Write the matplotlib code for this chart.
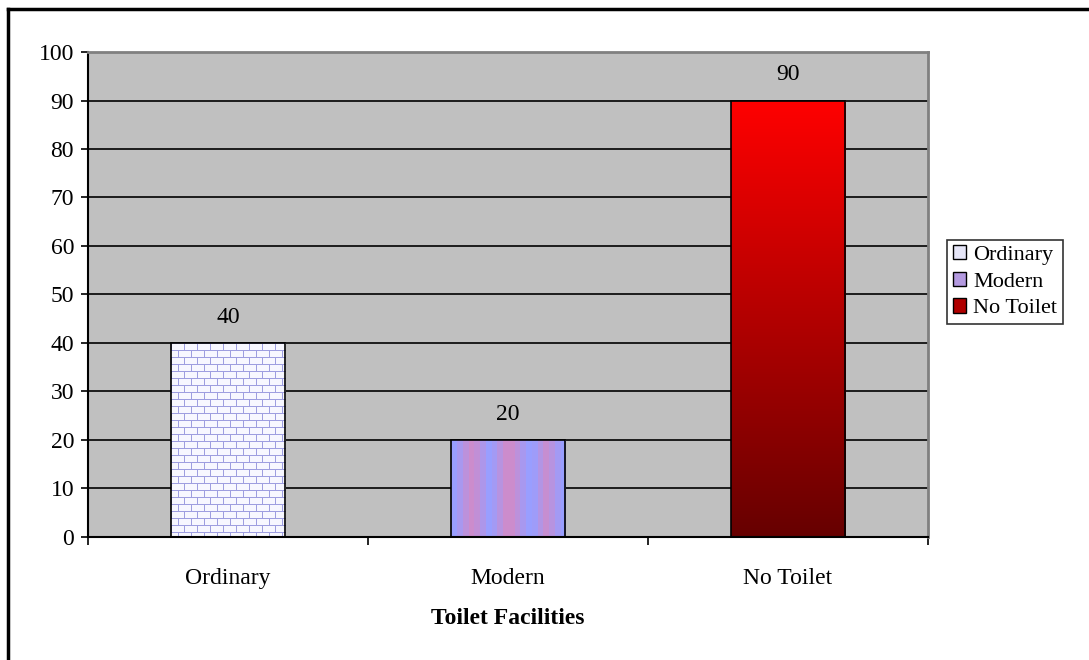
import numpy as np
import matplotlib.pyplot as plt
from matplotlib.patches import Patch
from matplotlib.lines import Line2D

# Toilet facilities survey counts
categories = ["Ordinary", "Modern", "No Toilet"]
counts = [40, 20, 90]
y_ticks = list(range(0, 101, 10))

plt.rcParams["font.family"] = ["Liberation Serif", "DejaVu Serif"]


def brick_texture(h, w, brick_w=13, brick_h=7):
    """White bricks with light-blue mortar lines."""
    img = np.ones((h, w, 3)) * np.array([0.97, 0.97, 1.0])
    mortar = np.array([0.62, 0.62, 0.88])
    for r in range(h):
        row = r // brick_h
        if r % brick_h == 0:
            img[r, :] = mortar
            continue
        shift = (brick_w // 2) if row % 2 else 0
        for c in range(w):
            if (c + shift) % brick_w == 0:
                img[r, c] = mortar
    return img


def stripe_texture(h, w):
    """Vertical pink / periwinkle stripes."""
    pink = np.array([0.80, 0.55, 0.80])
    blue = np.array([0.60, 0.62, 1.0])
    phase = np.array([0, .3, .7, 1, .8, .4, 0, .2, .6, 1, 1, .7, .3, 0, .1, .5, .9, .6, .2, 0])
    cols = []
    for c in range(w):
        t = phase[int(c / w * len(phase)) % len(phase)]
        cols.append(pink * t + blue * (1 - t))
    cols = np.array(cols)
    return np.repeat(cols[None, :, :], h, axis=0)


def gradient_texture(h, w):
    """Vertical red gradient, bright on top, dark at the bottom."""
    top = np.array([1.0, 0.0, 0.0])
    bottom = np.array([0.40, 0.0, 0.0])
    t = np.linspace(0, 1, h)[:, None]
    col = top * (1 - t) + bottom * t
    return np.repeat(col[:, None, :], w, axis=1)


fig = plt.figure(figsize=(10.89, 6.6), dpi=100)
ax = fig.add_axes([0.0808, 0.1864, 0.7714, 0.7348])
ax.set_facecolor("#C0C0C0")

x = np.arange(len(categories))
bars = ax.bar(x, counts, width=0.41, color="none", edgecolor="black", linewidth=1.2, zorder=3)

ax.set_xlim(-0.5, 2.5)
ax.set_ylim(0, 100)

# Fill each bar with its texture, clipped to the bar outline
textures = [brick_texture, stripe_texture, gradient_texture]
for bar, tex in zip(bars, textures):
    x0, w, h = bar.get_x(), bar.get_width(), bar.get_height()
    px_w = int(round(w / 3 * 840))
    px_h = int(round(h / 100 * 485))
    im = ax.imshow(tex(px_h, px_w), extent=[x0, x0 + w, 0, h], aspect="auto",
                   interpolation="nearest", zorder=2)
    im.set_clip_path(bar)

ax.set_xlim(-0.5, 2.5)
ax.set_ylim(0, 100)
ax.set_aspect("auto")

for bar, v in zip(bars, counts):
    ax.annotate(f"{v}", xy=(bar.get_x() + bar.get_width() / 2, v), xytext=(0, 11),
                textcoords="offset points", ha="center", va="bottom", fontsize=17)

ax.yaxis.grid(True, color="black", linewidth=1.2, zorder=1)
ax.set_axisbelow(True)
ax.set_yticks(y_ticks)
ax.tick_params(axis="y", labelsize=17, length=5, width=1.2, pad=5)

ax.set_xticks(x)
ax.set_xticklabels(categories, fontsize=17)
ax.set_xticks([-0.5, 0.5, 1.5, 2.5], minor=True)
ax.tick_params(axis="x", which="major", length=0, pad=22)
ax.tick_params(axis="x", which="minor", length=6, width=1.2)
ax.set_xlabel("Toilet Facilities", fontsize=17, fontweight="bold", labelpad=14)

for side in ("left", "bottom"):
    ax.spines[side].set_color("black")
    ax.spines[side].set_linewidth(1.5)
for side in ("top", "right"):
    ax.spines[side].set_color("#808080")
    ax.spines[side].set_linewidth(2)

handles = [
    Patch(facecolor="#E6E6F8", edgecolor="black", label="Ordinary"),
    Patch(facecolor="#B49AE0", edgecolor="black", label="Modern"),
    Patch(facecolor="#B00000", edgecolor="black", label="No Toilet"),
]
leg = fig.legend(handles=handles, loc="center left", bbox_to_anchor=(0.870, 0.573),
                 fontsize=16, frameon=True, fancybox=False, edgecolor="black",
                 handlelength=0.6, handleheight=0.6, handletextpad=0.3,
                 borderpad=0.25, labelspacing=0.3, borderaxespad=0)
leg.get_frame().set_linewidth(1.2)

# Outer chart frame (left and top edges)
fig.add_artist(Line2D([0.0073, 0.0073], [0, 0.9864], color="black", linewidth=2.5,
                      transform=fig.transFigure))
fig.add_artist(Line2D([0.0073, 1.0], [0.9864, 0.9864], color="black", linewidth=2.5,
                      transform=fig.transFigure))

fig.savefig("out.png", dpi=100)
